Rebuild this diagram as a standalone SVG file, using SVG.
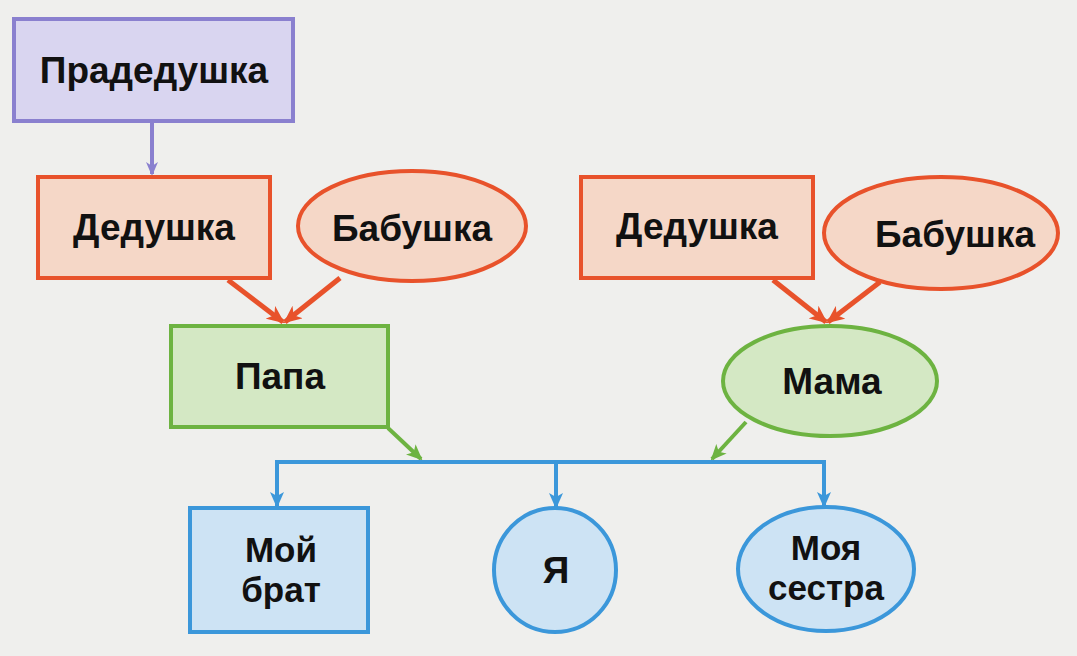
<svg xmlns="http://www.w3.org/2000/svg" width="1077" height="656" viewBox="0 0 1077 656">
<defs>
<style>
text{font-family:"Liberation Sans",Arial,sans-serif;font-weight:bold;font-size:37px;fill:#111;text-anchor:middle;dominant-baseline:central}
.sm{font-size:35px}
.pu{fill:#d9d5f0;stroke:#8a80cf;stroke-width:4}
.or{fill:#f5d7c7;stroke:#e8522b;stroke-width:4}
.gr{fill:#d4e8c4;stroke:#6db341;stroke-width:4}
.bl{fill:#cde3f4;stroke:#3b97da;stroke-width:4}
.c-pu{stroke:#8a80cf;stroke-width:4;fill:none}
.c-or{stroke:#e8522b;stroke-width:5;fill:none}
.c-gr{stroke:#6db341;stroke-width:4;fill:none}
.c-bl{stroke:#3b97da;stroke-width:4;fill:none}
</style>
<marker id="ap" markerWidth="14" markerHeight="14" refX="12" refY="7" orient="auto" markerUnits="userSpaceOnUse"><path d="M0,1 L14,7 L0,13 L4,7 Z" fill="#8a80cf"/></marker>
<marker id="ao" markerWidth="18" markerHeight="16" refX="16" refY="8" orient="auto" markerUnits="userSpaceOnUse"><path d="M0,0 L18,8 L0,16 L5,8 Z" fill="#e8522b"/></marker>
<marker id="ag" markerWidth="16" markerHeight="14" refX="14" refY="7" orient="auto" markerUnits="userSpaceOnUse"><path d="M0,0 L16,7 L0,14 L4,7 Z" fill="#6db341"/></marker>
<marker id="ab" markerWidth="16" markerHeight="14" refX="14" refY="7" orient="auto" markerUnits="userSpaceOnUse"><path d="M0,0 L16,7 L0,14 L4,7 Z" fill="#3b97da"/></marker>
</defs>
<rect width="1077" height="656" fill="#efefed"/>
<g id="connectors">
<line class="c-pu" x1="152" y1="123" x2="152" y2="174" marker-end="url(#ap)"/>
<line class="c-or" x1="228" y1="280" x2="283" y2="322" marker-end="url(#ao)"/>
<line class="c-or" x1="340" y1="278" x2="285" y2="322" marker-end="url(#ao)"/>
<line class="c-or" x1="773" y1="280" x2="826" y2="322" marker-end="url(#ao)"/>
<line class="c-or" x1="880" y1="282" x2="828" y2="322" marker-end="url(#ao)"/>
<line class="c-gr" x1="388" y1="428" x2="421" y2="459" marker-end="url(#ag)"/>
<line class="c-gr" x1="746" y1="422" x2="712" y2="459" marker-end="url(#ag)"/>
<path class="c-bl" d="M277,506 V462 H824 V506" marker-end="url(#ab)"/>
<line class="c-bl" x1="277" y1="462" x2="277" y2="506" marker-end="url(#ab)"/>
<line class="c-bl" x1="556" y1="462" x2="556" y2="507" marker-end="url(#ab)"/>
</g>
<g id="pradedushka"><rect class="pu" x="14" y="19" width="279" height="102"/><text x="154" y="70">Прадедушка</text></g>
<g id="dedushka1"><rect class="or" x="38" y="177" width="232" height="101"/><text x="154" y="227">Дедушка</text></g>
<g id="babushka1"><ellipse class="or" cx="412" cy="226" rx="114" ry="55"/><text x="412" y="228">Бабушка</text></g>
<g id="dedushka2"><rect class="or" x="581" y="177" width="232" height="101"/><text x="697" y="226">Дедушка</text></g>
<g id="babushka2"><ellipse class="or" cx="941" cy="233" rx="117" ry="56"/><text x="955" y="234">Бабушка</text></g>
<g id="papa"><rect class="gr" x="171" y="326" width="217" height="101"/><text x="280" y="376">Папа</text></g>
<g id="mama"><ellipse class="gr" cx="830" cy="381" rx="107" ry="55"/><text x="832" y="381">Мама</text></g>
<g id="brat"><rect class="bl" x="190" y="508" width="178" height="124"/><text class="sm" x="281" y="549">Мой</text><text class="sm" x="281" y="589">брат</text></g>
<g id="ya"><ellipse class="bl" cx="555" cy="570" rx="61" ry="62"/><text x="556" y="570">Я</text></g>
<g id="sestra"><ellipse class="bl" cx="826" cy="569" rx="88" ry="62"/><text class="sm" x="826" y="547">Моя</text><text class="sm" x="826" y="587">сестра</text></g>
</svg>
